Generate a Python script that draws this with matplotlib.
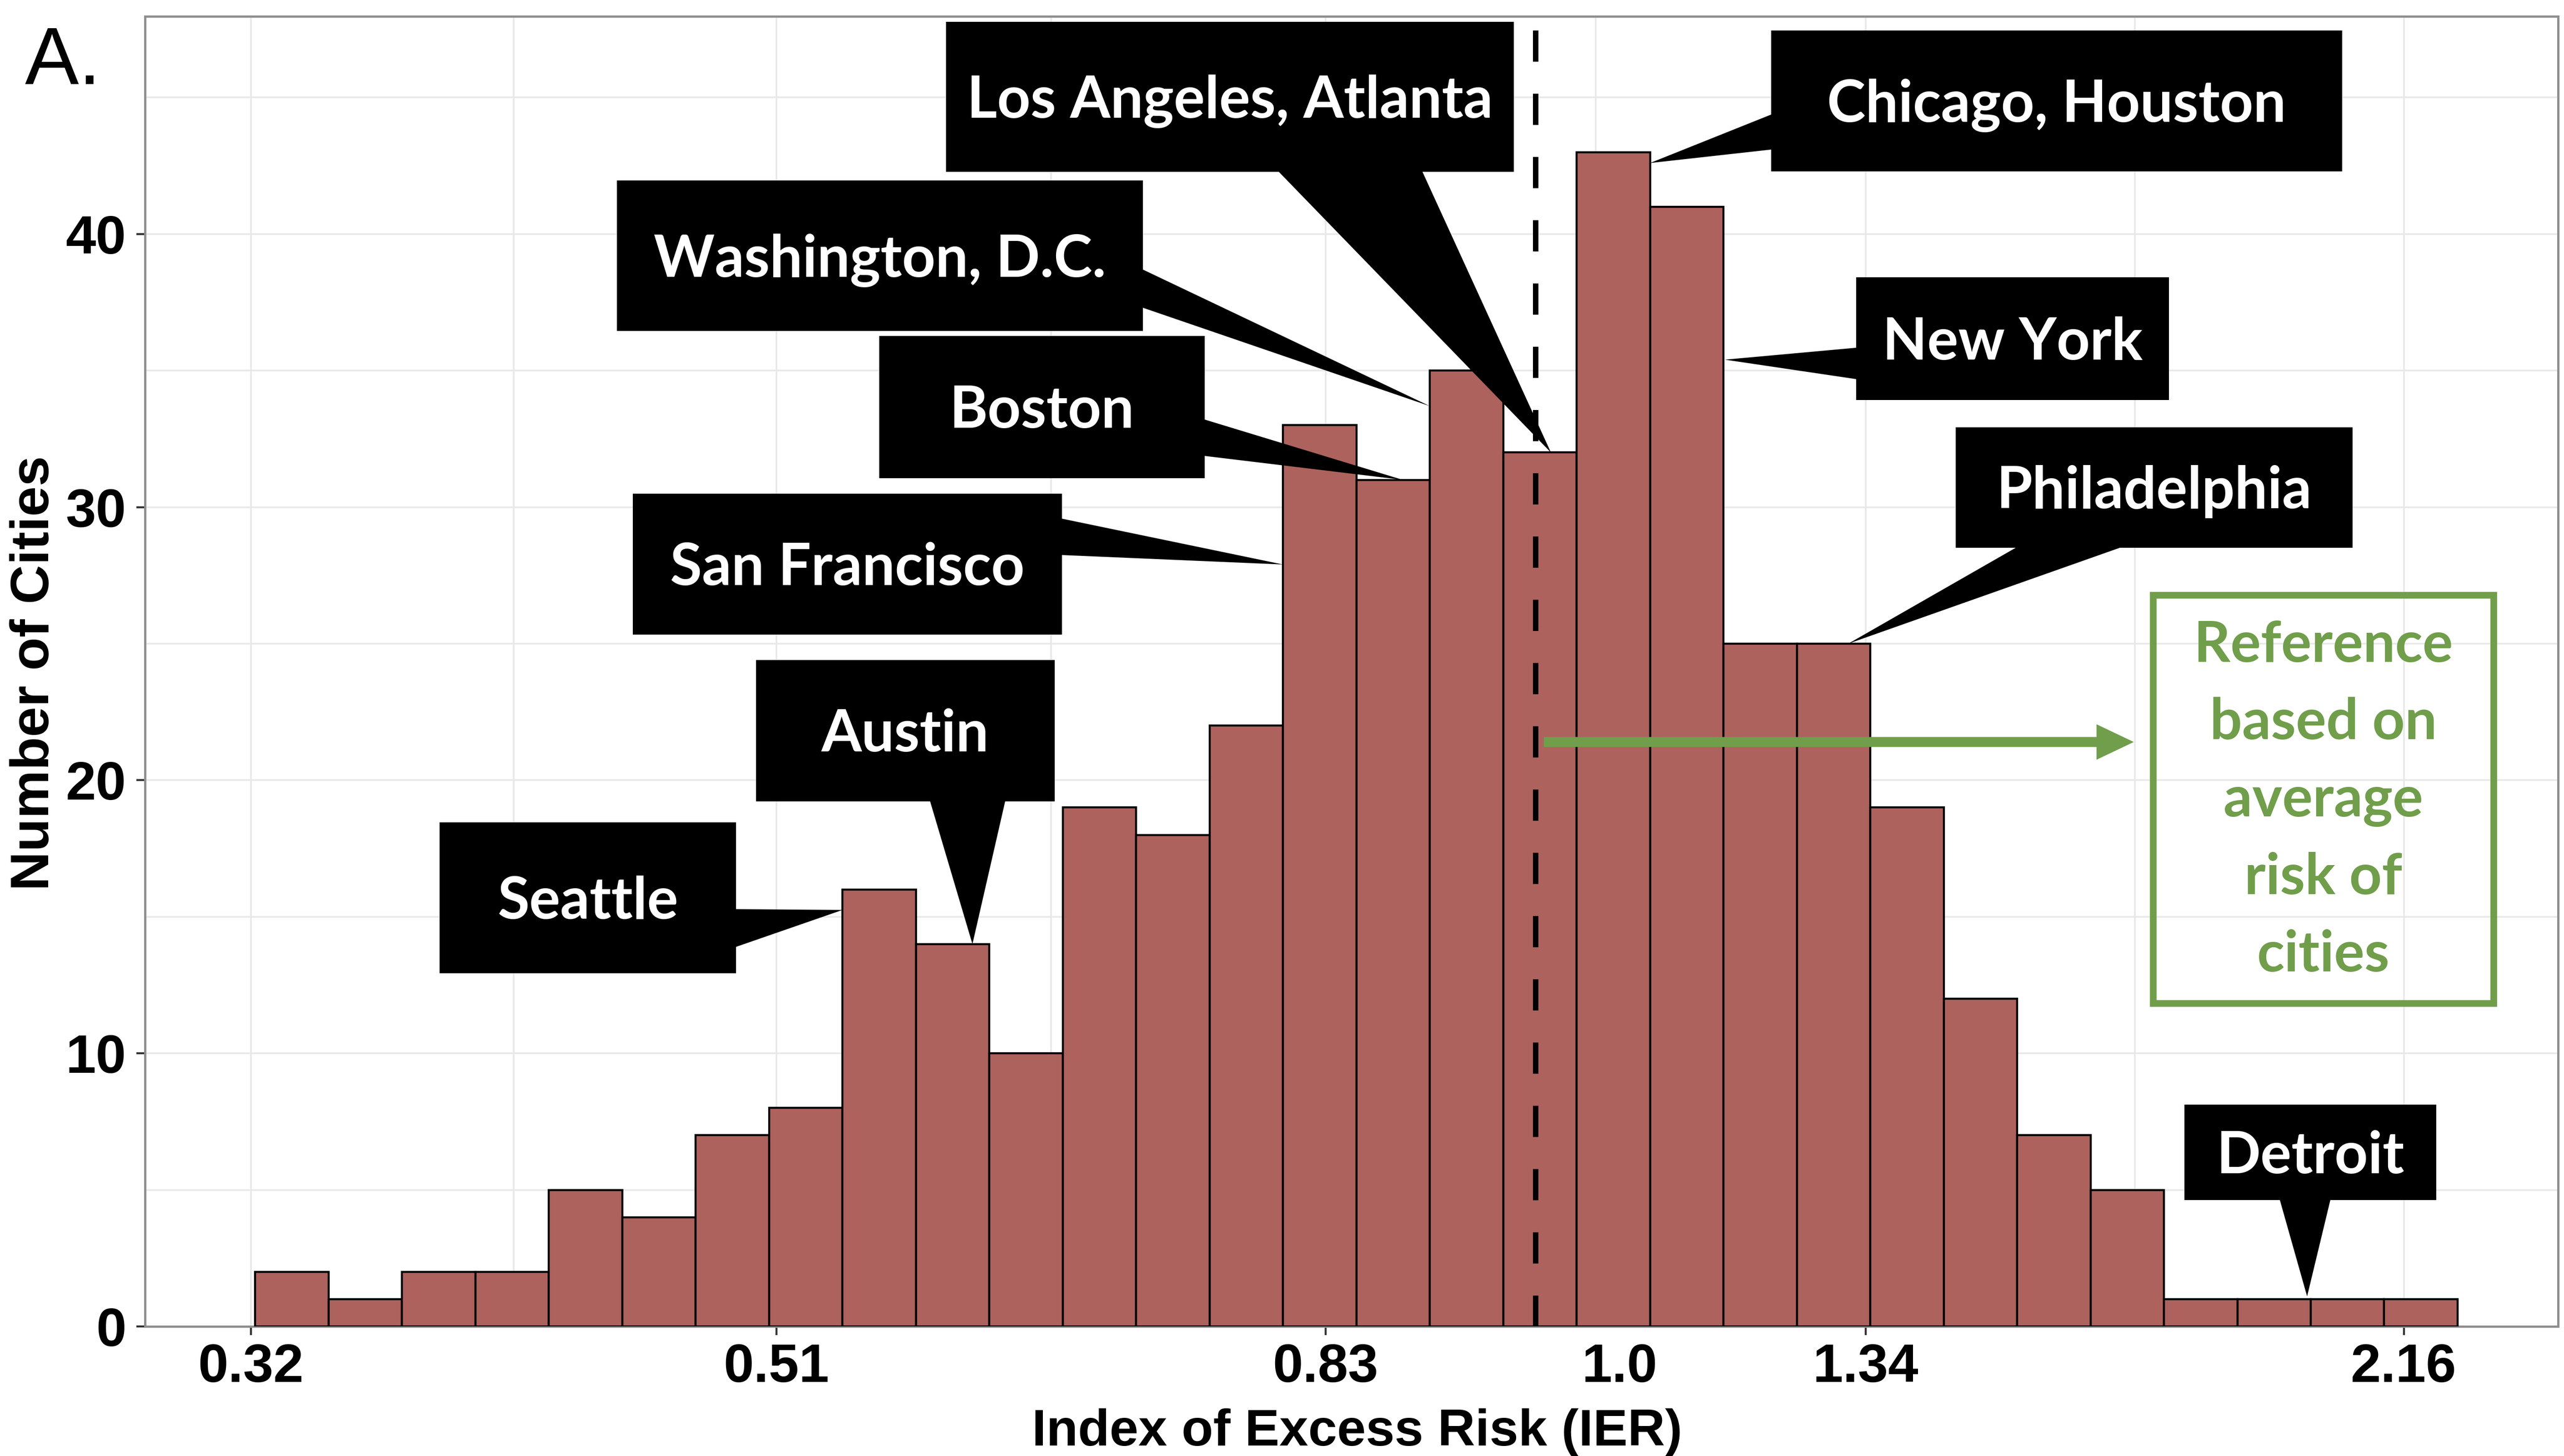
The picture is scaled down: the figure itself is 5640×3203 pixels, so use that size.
import numpy as np
import matplotlib
matplotlib.use("Agg")
import matplotlib.pyplot as plt
from matplotlib import font_manager
from matplotlib.patches import Rectangle, Polygon, FancyArrow
from matplotlib.ticker import NullFormatter

# ---- data -------------------------------------------------------------
# number of cities per log-spaced IER bin
counts = [2, 1, 2, 2, 5, 4, 7, 8, 16, 14, 10, 19, 18, 22, 33,
          31, 35, 32, 43, 41, 25, 25, 19, 12, 7, 5, 1, 1, 1, 1]
ier_min = 0.3212
ier_max = 2.2656
reference_ier = 1.0

x_ticks = [0.32, 0.51, 0.83, 1.34, 2.16]
x_tick_labels = ["0.32", "0.51", "0.83", "1.34", "2.16"]
y_ticks = [0, 10, 20, 30, 40]
y_minor = [5, 15, 25, 35, 45]

# city call-outs: label, bin they point at, position across that bin,
# and how far below the bin top the pointer ends
callout_labels = ["Los Angeles, Atlanta", "Washington, D.C.", "Boston",
                  "San Francisco", "Chicago, Houston", "New York",
                  "Philadelphia", "Seattle", "Austin", "Detroit"]
callout_bins = [17, 16, 15, 14, 18, 19, 21, 8, 9, 27]
callout_frac = [0.65, 0.0, 0.63, 0.0, 1.0, 1.02, 0.70, 0.0, 0.77, 0.95]
callout_drop = [0.0, 1.3, 0.0, 5.1, 0.4, 5.6, 0.0, 0.75, 0.0, -0.1]

reference_note = ["Reference", "based on", "average", "risk of", "cities"]
arrow_end_ier = 1.70
arrow_level = 21.4

# ---- layout (figure pixels) -------------------------------------------
W, H = 5640, 3203
DPI = 200
# call-out boxes: x0, x1, y0, y1 (pixels from top-left)
callout_boxes = [(2081, 3330, 48, 378), (1357, 2514, 397, 728),
                 (1934, 2650, 739, 1052), (1392, 2336, 1086, 1396),
                 (3896, 5152, 67, 377), (4083, 4771, 610, 880),
                 (4302, 5175, 940, 1205), (967, 1619, 1809, 2141),
                 (1663, 2320, 1452, 1763), (4805, 5359, 2430, 2640)]
# base of each pointer on its box
callout_bases = [((2813, 378), (3129, 378)), ((2514, 593), (2514, 677)),
                 ((2650, 923), (2650, 1003)), ((2336, 1141), (2336, 1221)),
                 ((3896, 252), (3896, 329)), ((4083, 765), (4083, 834)),
                 ((4434, 1205), (4663, 1205)), ((1619, 2000), (1619, 2083)),
                 ((2046, 1763), (2211, 1763)), ((5015, 2640), (5126, 2640))]
note_box = (4736, 5485, 1309, 2207)
note_baselines = [1456, 1626, 1796, 1967, 2137]

names = {f.name for f in font_manager.fontManager.ttflist}
axis_font = "Liberation Sans" if "Liberation Sans" in names else "DejaVu Sans"
box_font = "Lato" if "Lato" in names else axis_font

bar_color = "#ad625d"
green = "#709e4b"

fig = plt.figure(figsize=(W / DPI, H / DPI), dpi=DPI)
fig.patch.set_facecolor("white")
ax = fig.add_axes([319 / W, 1 - 2918 / H, (5627 - 319) / W, (2918 - 36) / H])

edges = np.geomspace(ier_min, ier_max, len(counts) + 1)
ax.bar(edges[:-1], counts, width=np.diff(edges), align="edge",
       color=bar_color, edgecolor="black", linewidth=1.6, zorder=3)

ax.set_xscale("log")
ax.set_xlim(0.2913, 2.4768)
ax.set_ylim(0, 47.97)

ax.set_xticks(x_ticks, x_tick_labels)
x_minor = [np.sqrt(a * b) for a, b in zip(x_ticks[:-1], x_ticks[1:])]
ax.set_xticks(x_minor, minor=True)
ax.xaxis.set_minor_formatter(NullFormatter())
ax.set_yticks(y_ticks)
ax.set_yticks(y_minor, minor=True)
ax.tick_params(which="minor", length=0)
ax.tick_params(which="major", length=7, width=1.6, color="#333333",
               labelsize=43, pad=6)
ax.tick_params(axis="y", pad=8)
for lab in ax.get_xticklabels() + ax.get_yticklabels():
    lab.set_fontfamily(axis_font)
    lab.set_fontweight("bold")
    lab.set_color("black")

ax.set_axisbelow(True)
ax.grid(True, which="both", color="#e8e8e8", linewidth=1.3)
for sp in ax.spines.values():
    sp.set_color("#8f8f8f")
    sp.set_linewidth(1.8)

# extra label for the reference value
ax.annotate("1.0", xy=(1.0775, 0), xycoords=("data", "axes fraction"),
            xytext=(0, -13), textcoords="offset points", ha="center",
            va="top", fontsize=43, fontweight="bold", family=axis_font)

# reference line
ax.plot([reference_ier, reference_ier], [47.46, 0], color="black",
        linewidth=4.3, linestyle=(0, (5.75, 5.9)), zorder=4)

# axis titles
fig.text(76 / W, 1 - 1481 / H, "Number of Cities", rotation=90,
         ha="center", va="center", fontsize=43, fontweight="bold",
         family=axis_font)
fig.text(2985 / W, 1 - 3180 / H, "Index of Excess Risk (IER)",
         ha="center", va="baseline", fontsize=41, fontweight="bold",
         family=axis_font)
fig.text(55 / W, 1 - 185 / H, "A.", ha="left", va="baseline",
         fontsize=64, family=axis_font)

# ---- overlay in pixel units for call-outs ------------------------------
ov = fig.add_axes([0, 0, 1, 1], zorder=10)
ov.set_xlim(0, W)
ov.set_ylim(H, 0)
ov.axis("off")
ov.patch.set_alpha(0)


def to_px(x, y):
    disp = ax.transData.transform((x, y))
    return ov.transData.inverted().transform(disp)


log_edges = np.log(edges)
for label, b, frac, drop, box, base in zip(callout_labels, callout_bins,
                                            callout_frac, callout_drop,
                                            callout_boxes, callout_bases):
    tip_x = np.exp(log_edges[b] + frac * (log_edges[b + 1] - log_edges[b]))
    tip = to_px(tip_x, counts[b] - drop)
    ov.add_patch(Polygon([base[0], base[1], tip], closed=True,
                         facecolor="black", edgecolor="none"))
    x0, x1, y0, y1 = box
    ov.add_patch(Rectangle((x0, y0), x1 - x0, y1 - y0,
                           facecolor="black", edgecolor="none"))
    ov.text((x0 + x1) / 2, (y0 + y1) / 2 + 46, label, ha="center",
            va="baseline", color="white", fontsize=46, fontweight="bold",
            family=box_font)

# green arrow from the reference line
start = to_px(reference_ier, arrow_level)
end = to_px(arrow_end_ier, arrow_level)
start[0] += 18
ov.add_patch(FancyArrow(start[0], start[1], end[0] - start[0], 0,
                        width=22, head_width=78, head_length=82,
                        length_includes_head=True, color=green,
                        linewidth=0))

x0, x1, y0, y1 = note_box
ov.add_patch(Rectangle((x0, y0), x1 - x0, y1 - y0, facecolor="none",
                       edgecolor=green, linewidth=5.3))
for line, yb in zip(reference_note, note_baselines):
    ov.text((x0 + x1) / 2, yb, line, ha="center", va="baseline",
            color=green, fontsize=45, fontweight="bold", family=box_font)

fig.savefig("out.png", dpi=DPI, facecolor="white")
